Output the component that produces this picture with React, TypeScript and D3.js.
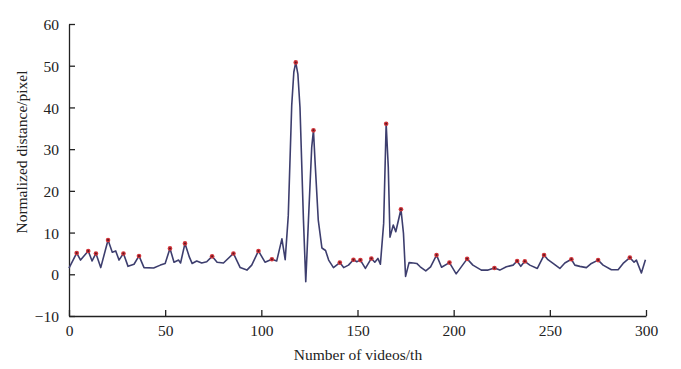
import React, { useEffect, useRef } from "react";
import * as d3 from "d3";

// video index (x) and normalized distance (y)
const videoNo = [
  0, 4, 6, 10, 12, 14, 16.5, 20.3, 22.5, 24.3, 26, 28.3, 30.7, 33.8, 36.4, 39, 44, 47.5,
  50, 52.5, 54.6, 57, 58, 60.3, 62.6, 64, 66.4, 69, 71.6, 74.4, 77, 80.3, 85.5, 89, 92.5, 95,
  98.5, 101.9, 105.5, 108, 110.7, 112.4, 114, 115.8, 116.9, 117.9, 119, 120.1, 121.9, 123.1, 124.5, 126.2,
  127.1, 127.9, 129.6, 131.5, 133.4, 135, 137.5, 140.8, 142.8, 145.3, 147.9, 149.6, 151.5,
  154.1, 157.2, 159, 160.6, 161.9, 163.6, 164.9, 166, 166.9, 168.6, 169.9, 172.6, 173.9, 175,
  176.8, 179, 180.8, 182.6, 185.5, 188, 191.1, 193.7, 197.8, 201.3, 207, 210, 214.4, 217.9,
  221.2, 224, 227.4, 230.9, 233, 234.9, 237, 239.6, 243.5, 247, 249, 251.7, 255.2, 257.8,
  261.2, 263, 265.6, 269, 271.6, 275.1, 277.7, 282, 285.5, 288.1, 291.6, 293.8, 295, 297.6, 299.7,
];
const distance = [
  1.5, 5.1, 3.4, 5.6, 3.2, 5.0, 1.6, 8.2, 5.3, 5.6, 3.4, 5.0, 1.9, 2.4, 4.4, 1.6, 1.5, 2.2,
  2.6, 6.2, 2.9, 3.4, 2.7, 7.4, 4.1, 2.6, 3.2, 2.7, 3.0, 4.3, 2.9, 2.7, 5.0, 1.6, 1.0, 2.2,
  5.6, 2.9, 3.6, 3.2, 8.5, 3.5, 14, 40.5, 48.5, 50.8, 48, 40, 13, -1.8, 13, 30.5,
  34.5, 27.3, 13, 6.3, 5.7, 3.4, 1.6, 2.8, 1.6, 2.2, 3.5, 3.0, 3.4,
  1.4, 3.8, 2.9, 3.8, 2.4, 12.2, 36.1, 25.7, 8.9, 11.8, 10.2, 15.6, 9.8, -0.5,
  2.8, 2.7, 2.6, 1.8, 0.8, 1.8, 4.6, 1.7, 2.8, 0.1, 3.7, 2.2, 1.0, 1.0,
  1.5, 1.0, 1.8, 2.2, 3.2, 1.9, 3.1, 2.2, 1.4, 4.6, 3.5, 2.6, 1.4, 2.7,
  3.6, 2.2, 1.9, 1.6, 2.6, 3.4, 2.2, 1.1, 1.1, 2.6, 4.0, 2.9, 3.4, 0.3, 3.5,
];
// videos marked as local peaks (red dots)
const peakVideo = [
  4, 10, 14, 20.3, 28.3, 36.4, 52.5, 60.3, 74.4, 85.5, 98.5, 105.5, 117.9, 127.1, 140.8,
  147.9, 151.5, 157.2, 164.9, 172.6, 191.1, 197.8, 207, 221.2, 233, 237, 247, 261.2, 275.1, 291.6,
];
const xTicks = [0, 50, 100, 150, 200, 250, 300];
const yTicks = [-10, 0, 10, 20, 30, 40, 50, 60];

export default function App() {
  const svgRef = useRef<SVGSVGElement>(null);

  useEffect(() => {
    const font = "'Liberation Serif', 'Times New Roman', serif";
    const svg = d3.select(svgRef.current);
    svg.selectAll("*").remove();

    const x = d3.scaleLinear().domain([0, 300]).range([69, 646]);
    const y = d3.scaleLinear().domain([-10, 60]).range([316, 24]);

    const pts = videoNo.map((v, i) => ({ v, d: distance[i] }));

    // axes
    const xAxis = d3.axisBottom(x).tickValues(xTicks).tickSizeInner(-6).tickSizeOuter(0).tickPadding(9);
    const yAxis = d3.axisLeft(y).tickValues(yTicks).tickSizeInner(-6).tickSizeOuter(0).tickPadding(10);

    const gx = svg.append("g").attr("transform", `translate(0, 316)`).call(xAxis);
    const gy = svg.append("g").attr("transform", `translate(69, 0)`).call(yAxis);
    [gx, gy].forEach((g) => {
      g.select(".domain").attr("stroke", "#222").attr("stroke-width", 1.3);
      g.selectAll(".tick line").attr("stroke", "#222").attr("stroke-width", 1.3);
      g.selectAll(".tick text")
        .attr("fill", "#222")
        .style("font-family", font)
        .style("font-size", "15.5px");
    });
    gy.selectAll(".tick text").attr("dy", "0.36em");

    // line
    const line = d3.line<{ v: number; d: number }>()
      .x((p) => x(p.v))
      .y((p) => y(p.d));

    svg.append("path")
      .datum(pts)
      .attr("d", line)
      .attr("fill", "none")
      .attr("stroke", "#3d3e6e")
      .attr("stroke-width", 1.6)
      .attr("stroke-linejoin", "round");

    // peak markers: red halo with a dark core
    const peaks = peakVideo.map((v) => pts.find((p) => p.v === v)!);
    svg.selectAll("circle.peak")
      .data(peaks)
      .join("circle")
      .attr("class", "peak")
      .attr("cx", (p) => x(p.v))
      .attr("cy", (p) => y(p.d))
      .attr("r", 2.3)
      .attr("fill", "#d0343a");
    svg.selectAll("circle.core")
      .data(peaks)
      .join("circle")
      .attr("class", "core")
      .attr("cx", (p) => x(p.v))
      .attr("cy", (p) => y(p.d))
      .attr("r", 1)
      .attr("fill", "#5a1620");

    // axis titles
    svg.append("text")
      .attr("x", 358)
      .attr("y", 360)
      .attr("text-anchor", "middle")
      .style("font-family", font)
      .style("font-size", "15.5px")
      .attr("fill", "#222")
      .text("Number of videos/th");

    svg.append("text")
      .attr("transform", "translate(27, 152) rotate(-90)")
      .attr("text-anchor", "middle")
      .style("font-family", font)
      .style("font-size", "15.5px")
      .attr("fill", "#222")
      .text("Normalized distance/pixel");
  }, []);

  return (
    <svg
      ref={svgRef}
      width={681}
      height={369}
      style={{ position: "absolute", left: 0, top: 0, background: "#fff" }}
    />
  );
}
